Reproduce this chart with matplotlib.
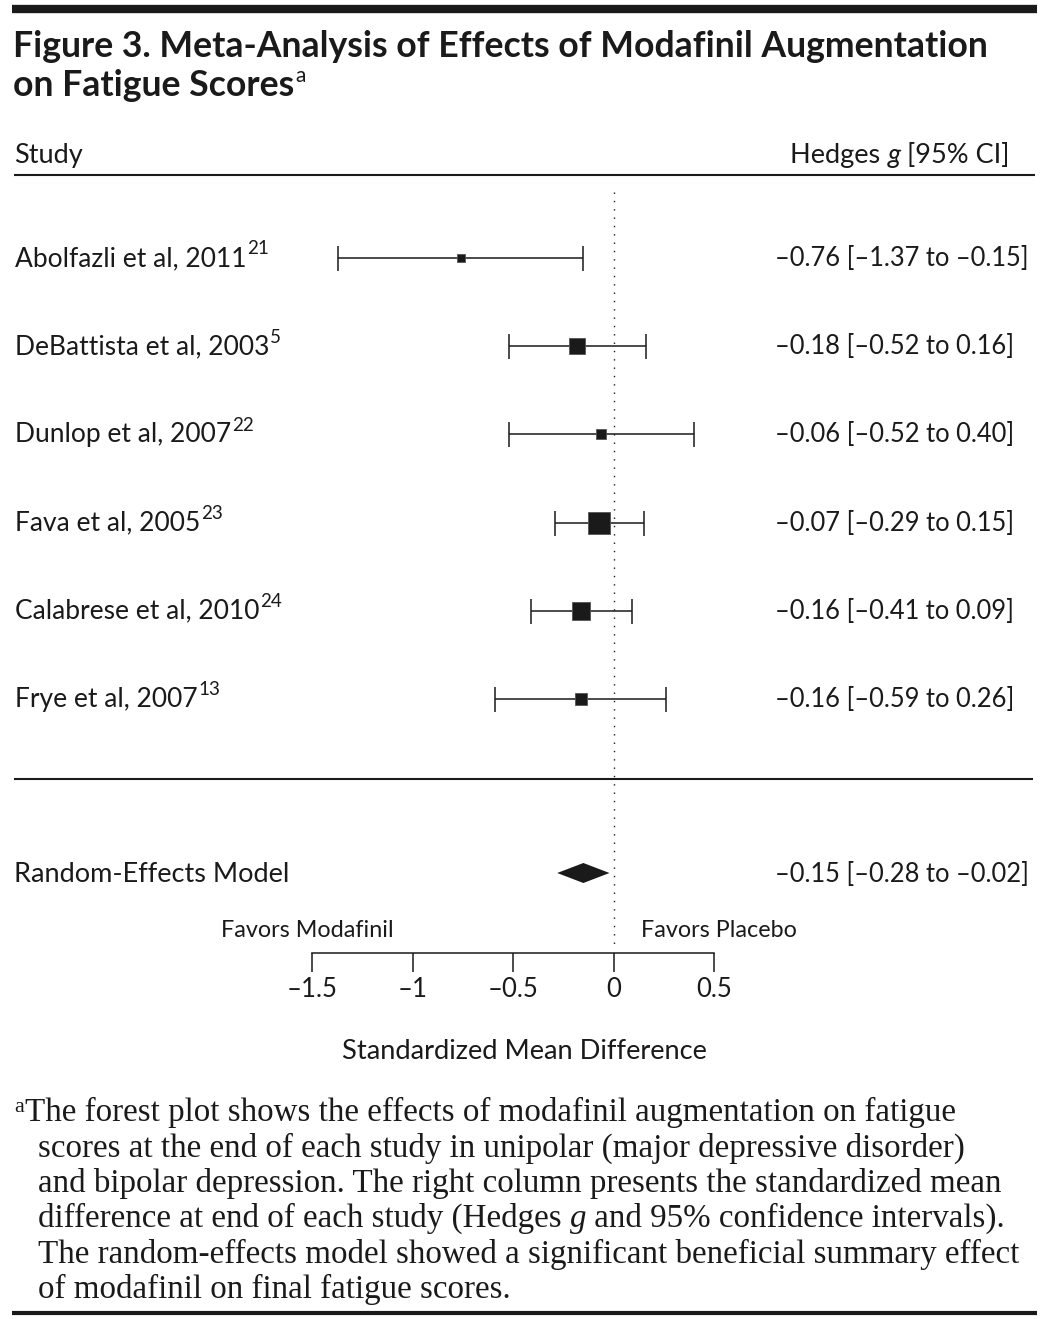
import matplotlib
matplotlib.use("Agg")
import matplotlib.pyplot as plt

# Study-level data.
studies = [
    "Abolfazli et al, 2011",
    "DeBattista et al, 2003",
    "Dunlop et al, 2007",
    "Fava et al, 2005",
    "Calabrese et al, 2010",
    "Frye et al, 2007",
]
refs = ["21", "5", "22", "23", "24", "13"]
hedges_g = [-0.76, -0.18, -0.06, -0.07, -0.16, -0.16]
ci_low = [-1.37, -0.52, -0.52, -0.29, -0.41, -0.59]
ci_high = [-0.15, 0.16, 0.40, 0.15, 0.09, 0.26]
weights = [5.3, 17.1, 7.0, 36.8, 24.3, 9.5]  # box areas, estimated

pooled_label = "Random-Effects Model"
pooled_g = -0.15
pooled_low = -0.28
pooled_high = -0.02

axis_ticks = [-1.5, -1, -0.5, 0, 0.5]

footnote = [
    "The forest plot shows the effects of modafinil augmentation on fatigue",
    "scores at the end of each study in unipolar (major depressive disorder)",
    "and bipolar depression. The right column presents the standardized mean",
    None,  # line with italic g, built below
    "The random-effects model showed a significant beneficial summary effect",
    "of modafinil on final fatigue scores.",
]

W, H = 1051, 1319
SANS = ["Lato", "DejaVu Sans"]
SERIF = ["Liberation Serif", "DejaVu Serif"]
INK = "#1a1a1a"


def fmt(v):
    return f"{v:.2f}".replace("-", "\u2013")


fig = plt.figure(figsize=(W / 100, H / 100), dpi=100)

# Canvas in pixel units for text and rules.
cv = fig.add_axes([0, 0, 1, 1])
cv.set_xlim(0, W)
cv.set_ylim(H, 0)
cv.axis("off")

# Forest axes: x in effect-size units, y in pixels.
zero_px, unit_px = 613.5, 201.0
ax = fig.add_axes([0, 0, 1, 1])
ax.set_xlim(-zero_px / unit_px, (W - zero_px) / unit_px)
ax.set_ylim(H, 0)
ax.patch.set_visible(False)
for side in ["top", "left", "right"]:
    ax.spines[side].set_visible(False)
ax.spines["bottom"].set_position(("data", 953))
ax.spines["bottom"].set_bounds(axis_ticks[0], axis_ticks[-1])
ax.spines["bottom"].set_linewidth(1.1)
ax.spines["bottom"].set_color(INK)
ax.set_yticks([])
ax.set_xticks(axis_ticks)
ax.set_xticklabels([f"{t:g}".replace("-", "\u2013") for t in axis_ticks],
                   fontfamily=SANS, fontsize=18.5, color=INK)
ax.tick_params(axis="x", direction="out", length=14, width=1.1, pad=3, colors=INK)

# Rules
cv.plot([12, 1037], [8.5, 8.5], color=INK, lw=6, solid_capstyle="butt")
cv.plot([14, 1035], [175, 175], color=INK, lw=1.5, solid_capstyle="butt")
cv.plot([14, 1033], [779, 779], color=INK, lw=1.5, solid_capstyle="butt")
cv.plot([12, 1037], [1313, 1313], color=INK, lw=3, solid_capstyle="butt")

# Title
cv.text(13, 57, "Figure 3. Meta-Analysis of Effects of Modafinil Augmentation",
        fontfamily=SANS, fontweight="bold", fontsize=25.7, color=INK, va="baseline")
t2 = cv.text(13, 96, "on Fatigue Scores", fontfamily=SANS, fontweight="bold",
             fontsize=25.7, color=INK, va="baseline")
cv.annotate("a", xy=(1, 1), xycoords=t2, xytext=(1, 2), textcoords="offset points",
            fontfamily=SANS, fontsize=15, color=INK, va="top")

# Header
cv.text(14, 163, "Study", fontfamily=SANS, fontsize=19.5, color=INK, va="baseline")
h3 = cv.text(1010, 163, " [95% CI]", fontfamily=SANS, fontsize=19.5, color=INK,
             va="baseline", ha="right")
h2 = cv.annotate("g", xy=(0, 0), xycoords=h3, fontfamily=SANS, fontsize=19.5,
                 style="italic", color=INK, va="bottom", ha="right")
cv.annotate("Hedges ", xy=(0, 0), xycoords=h2, fontfamily=SANS, fontsize=19.5,
            color=INK, va="bottom", ha="right")

# Study rows
row_y = [258 + 88.2 * i for i in range(len(studies))]
box_k = 23.0 / 36.8 ** 0.5  # px per sqrt(weight)
for name, ref, g, lo, hi, w, y in zip(studies, refs, hedges_g, ci_low, ci_high,
                                      weights, row_y):
    ax.errorbar(g, y, xerr=[[g - lo], [hi - g]], fmt="none", ecolor=INK,
                elinewidth=1.1, capsize=9, capthick=1.1)
    ax.plot(g, y, marker="s", color=INK, mec="#555555", mew=0.6,
            ms=box_k * w ** 0.5 / 1.389, zorder=3)
    lab = cv.text(15, y + 8, name, fontfamily=SANS, fontsize=19, color=INK,
                  va="baseline")
    cv.annotate(ref, xy=(1, 1), xycoords=lab, xytext=(0.5, 4),
                textcoords="offset points", fontfamily=SANS, fontsize=13.5,
                color=INK, va="top")
    cv.text(775, y + 8, f"{fmt(g)} [{fmt(lo)} to {fmt(hi)}]", fontfamily=SANS,
            fontsize=18.4, color=INK, va="baseline")

# Pooled estimate
py = 873
ax.fill([pooled_low, pooled_g, pooled_high, pooled_g], [py, py - 10, py, py + 10],
        color=INK, lw=0, zorder=3)
cv.text(14, py + 9, pooled_label, fontfamily=SANS, fontsize=19.5, color=INK,
        va="baseline")
cv.text(775, py + 9, f"{fmt(pooled_g)} [{fmt(pooled_low)} to {fmt(pooled_high)}]",
        fontfamily=SANS, fontsize=18.4, color=INK, va="baseline")

# Null line
ax.plot([0, 0], [192, 950], color=INK, lw=1.0, ls=(0, (1, 5)), zorder=1)

cv.text(307, 937, "Favors Modafinil", fontfamily=SANS, fontsize=16.8, color=INK,
        ha="center", va="baseline")
cv.text(719, 937, "Favors Placebo", fontfamily=SANS, fontsize=16.8, color=INK,
        ha="center", va="baseline")
cv.text(524, 1059, "Standardized Mean Difference", fontfamily=SANS, fontsize=19.6,
        color=INK, ha="center", va="baseline")

# Footnote
fn_size = 23.8
fn_y = [1121 + 35.4 * i for i in range(len(footnote))]
for i, (line, y) in enumerate(zip(footnote, fn_y)):
    x = 25 if i == 0 else 38
    if line is None:
        p1 = cv.text(x, y, "difference at end of each study (Hedges ", fontfamily=SERIF,
                     fontsize=fn_size, color=INK, va="baseline")
        p2 = cv.annotate("g", xy=(1, 0), xycoords=p1, fontfamily=SERIF,
                         fontsize=fn_size, style="italic", color=INK, va="bottom")
        cv.annotate(" and 95% confidence intervals).", xy=(1, 0), xycoords=p2,
                    fontfamily=SERIF, fontsize=fn_size, color=INK, va="bottom")
        continue
    t = cv.text(x, y, line, fontfamily=SERIF, fontsize=fn_size, color=INK,
                va="baseline")
    if i == 0:
        cv.annotate("a", xy=(0, 1), xycoords=t, xytext=(-0.5, -1),
                    textcoords="offset points", fontfamily=SERIF, fontsize=16,
                    color=INK, va="top", ha="right")

fig.savefig("out.png", dpi=100)
